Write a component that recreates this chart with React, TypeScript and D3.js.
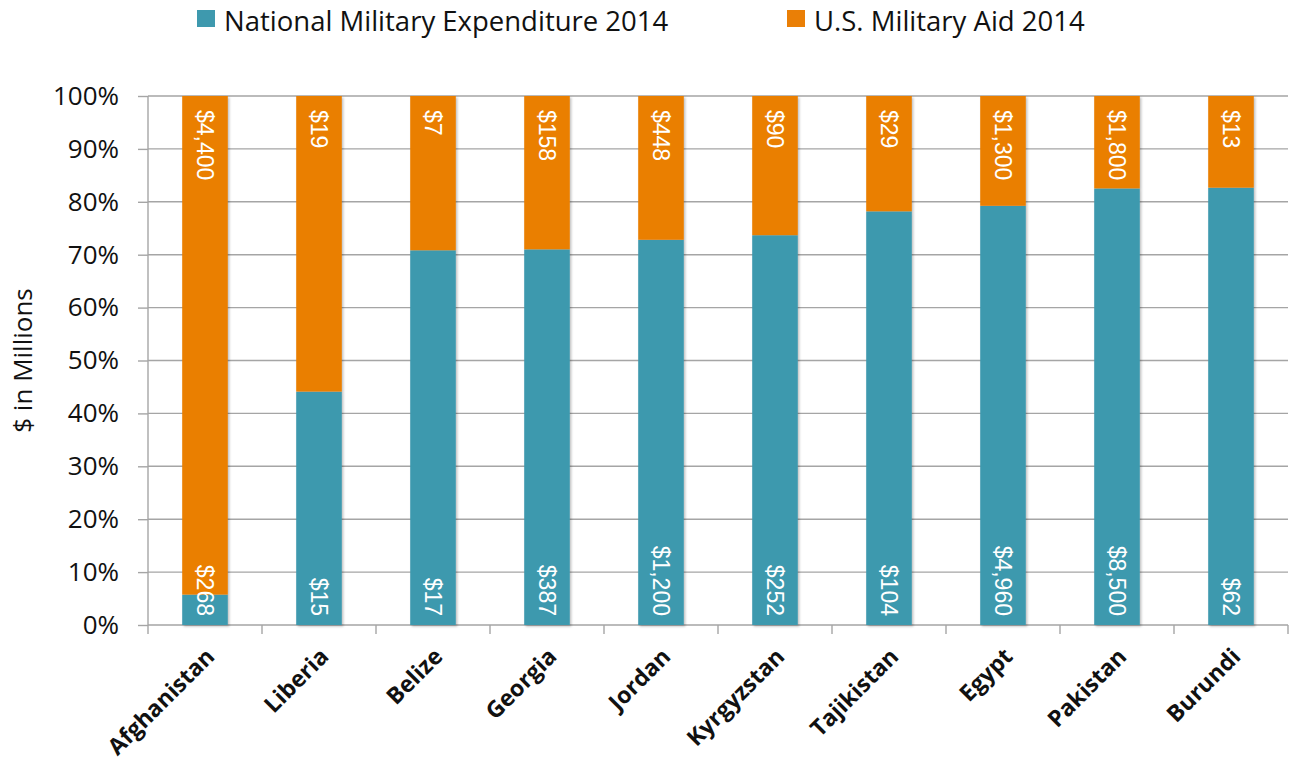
import { useEffect, useRef } from 'react';
import * as d3 from 'd3';

// Data ($ millions)
const countries = ['Afghanistan', 'Liberia', 'Belize', 'Georgia', 'Jordan', 'Kyrgyzstan', 'Tajikistan', 'Egypt', 'Pakistan', 'Burundi'];
const nationalSpend = [268, 15, 17, 387, 1200, 252, 104, 4960, 8500, 62];
const usAid = [4400, 19, 7, 158, 448, 90, 29, 1300, 1800, 13];
const yTicks = [0, 0.1, 0.2, 0.3, 0.4, 0.5, 0.6, 0.7, 0.8, 0.9, 1];
const seriesNames = ['National Military Expenditure 2014', 'U.S. Military Aid 2014'];

const BLUE = '#3e99ae';
const ORANGE = '#ea7f06';
const GRID = '#a5a5a5';
const UI_FONT = "'Open Sans', 'Noto Sans', sans-serif";
const LABEL_FONT = "'Liberation Sans Narrow', 'Liberation Sans', Arial, sans-serif";

const width = 1294;
const height = 767;
const margin = { top: 96, right: 6, bottom: 142, left: 148 };

const App = () => {
  const svgRef = useRef<SVGSVGElement | null>(null);

  useEffect(() => {
    document.body.style.margin = '0';
    const svg = d3.select(svgRef.current);
    svg.selectAll('*').remove();

    const rows = countries.map((c, i) => {
      const total = nationalSpend[i] + usAid[i];
      return { name: c, nat: nationalSpend[i], aid: usAid[i], natShare: nationalSpend[i] / total };
    });

    const x = d3.scaleBand()
      .domain(countries)
      .range([margin.left, width - margin.right])
      .paddingInner(0.6)
      .paddingOuter(0.3);

    const y = d3.scaleLinear()
      .domain([0, 1])
      .range([height - margin.bottom, margin.top]);

    const fmt = d3.format(',');

    // drop shadow for bars
    const defs = svg.append('defs');
    const f = defs.append('filter').attr('id', 'shadow').attr('x', '-20%').attr('y', '-5%').attr('width', '140%').attr('height', '110%');
    f.append('feDropShadow').attr('dx', 1.5).attr('dy', 1.5).attr('stdDeviation', 1.2).attr('flood-color', '#000').attr('flood-opacity', 0.25);

    // y ticks + labels
    const yAxis = svg.append('g')
      .attr('transform', `translate(${margin.left},0)`)
      .call(d3.axisLeft(y).tickValues(yTicks).tickFormat(d3.format('.0%')).tickSize(10).tickPadding(19));
    yAxis.select('.domain').remove();
    yAxis.selectAll('.tick line').attr('stroke', GRID).attr('stroke-width', 1.4);
    yAxis.selectAll('.tick text')
      .attr('font-family', UI_FONT)
      .attr('font-size', 26)
      .attr('fill', '#111');

    // gridlines
    svg.append('g')
      .selectAll('line')
      .data(yTicks)
      .join('line')
      .attr('x1', margin.left)
      .attr('x2', width - margin.right)
      .attr('y1', (d) => y(d))
      .attr('y2', (d) => y(d))
      .attr('stroke', GRID)
      .attr('stroke-width', 1.4);

    // y axis line
    svg.append('line')
      .attr('x1', margin.left).attr('x2', margin.left)
      .attr('y1', y(1)).attr('y2', y(0))
      .attr('stroke', GRID).attr('stroke-width', 1.4);

    // x ticks at band boundaries
    const step = x.step();
    const bounds = d3.range(countries.length + 1).map((i) => margin.left + i * step);
    svg.append('g')
      .selectAll('line')
      .data(bounds)
      .join('line')
      .attr('x1', (d) => d).attr('x2', (d) => d)
      .attr('y1', y(0)).attr('y2', y(0) + 9)
      .attr('stroke', GRID).attr('stroke-width', 1.4);

    // bars
    const bw = x.bandwidth();
    const bars = svg.append('g').attr('filter', 'url(#shadow)');
    bars.selectAll('rect.nat')
      .data(rows)
      .join('rect')
      .attr('class', 'nat')
      .attr('x', (d) => x(d.name) ?? 0)
      .attr('width', bw)
      .attr('y', (d) => y(d.natShare))
      .attr('height', (d) => y(0) - y(d.natShare))
      .attr('fill', BLUE);
    bars.selectAll('rect.aid')
      .data(rows)
      .join('rect')
      .attr('class', 'aid')
      .attr('x', (d) => x(d.name) ?? 0)
      .attr('width', bw)
      .attr('y', y(1))
      .attr('height', (d) => y(d.natShare) - y(1))
      .attr('fill', ORANGE);

    // value labels (rotated)
    const labels = svg.append('g')
      .attr('font-family', LABEL_FONT)
      .attr('font-size', 23)
      .attr('fill', '#fff');
    labels.selectAll('text.aid')
      .data(rows)
      .join('text')
      .attr('class', 'aid')
      .attr('transform', (d) => `translate(${(x(d.name) ?? 0) + bw / 2},${y(1) + 14}) rotate(90)`)
      .attr('text-anchor', 'start')
      .attr('dominant-baseline', 'central')
      .text((d) => '$' + fmt(d.aid));
    labels.selectAll('text.nat')
      .data(rows)
      .join('text')
      .attr('class', 'nat')
      .attr('transform', (d) => `translate(${(x(d.name) ?? 0) + bw / 2},${y(0) - 9}) rotate(90)`)
      .attr('text-anchor', 'end')
      .attr('dominant-baseline', 'central')
      .text((d) => '$' + fmt(d.nat));

    // x category labels
    svg.append('g')
      .selectAll('text')
      .data(countries)
      .join('text')
      .attr('transform', (d) => `translate(${(x(d) ?? 0) + bw / 2 + 11},${y(0) + 33}) rotate(-45)`)
      .attr('text-anchor', 'end')
      .attr('font-family', UI_FONT)
      .attr('font-weight', 'bold')
      .attr('font-size', 23)
      .attr('fill', '#111')
      .text((d) => d);

    // y axis title
    svg.append('text')
      .attr('transform', `translate(22,${(y(0) + y(1)) / 2}) rotate(-90)`)
      .attr('text-anchor', 'middle')
      .attr('dominant-baseline', 'central')
      .attr('font-family', UI_FONT)
      .attr('font-size', 26)
      .attr('fill', '#111')
      .text('$ in Millions');

    // legend
    const legendX = [197, 787];
    const legend = svg.append('g');
    legend.selectAll('rect')
      .data(seriesNames)
      .join('rect')
      .attr('x', (_, i) => legendX[i])
      .attr('y', 10)
      .attr('width', 18)
      .attr('height', 17)
      .attr('fill', (_, i) => (i === 0 ? BLUE : ORANGE));
    legend.selectAll('text')
      .data(seriesNames)
      .join('text')
      .attr('x', (_, i) => legendX[i] + 27)
      .attr('y', 20)
      .attr('dominant-baseline', 'central')
      .attr('font-family', UI_FONT)
      .attr('font-size', 27.5)
      .attr('fill', '#111')
      .text((d) => d);
  }, []);

  return <svg ref={svgRef} width={width} height={height} style={{ display: 'block', background: '#fff' }}></svg>;
};

export default App;
